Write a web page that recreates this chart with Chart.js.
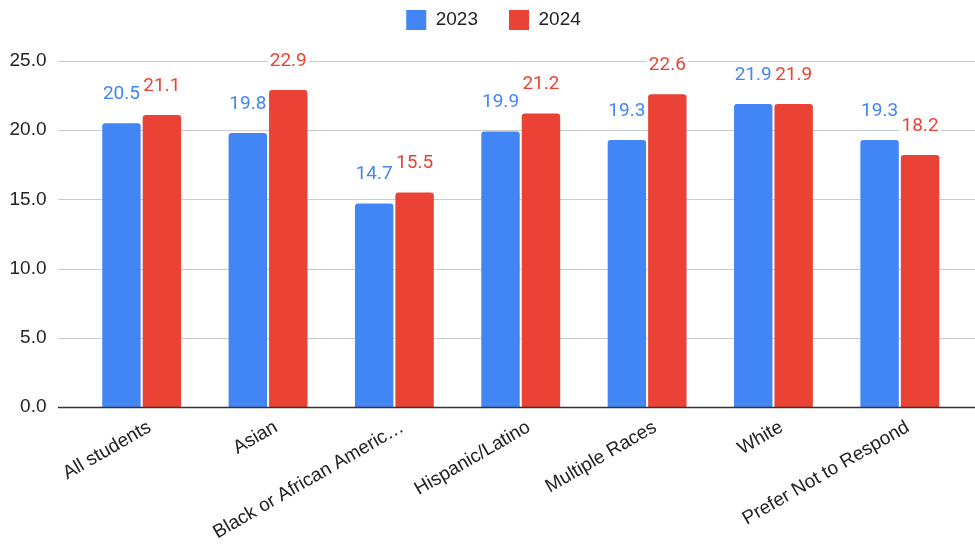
<!DOCTYPE html>
<html>
<head>
<meta charset="utf-8">
<script src="https://cdn.jsdelivr.net/npm/chart.js@4.4.1/dist/chart.umd.min.js"></script>
<style>
  html, body { margin: 0; padding: 0; background: #fff; }
  #wrap { width: 975px; height: 546px; }
</style>
</head>
<body>
<div id="wrap"><canvas id="myChart" width="975" height="546"></canvas></div>
<script>
const categories = ['All students', 'Asian', 'Black or African Americ\u2026', 'Hispanic/Latino', 'Multiple Races', 'White', 'Prefer Not to Respond'];
const seriesNames = ['2023', '2024'];
const values2023 = [20.5, 19.8, 14.7, 19.9, 19.3, 21.9, 19.3];
const values2024 = [21.1, 22.9, 15.5, 21.2, 22.6, 21.9, 18.2];
const yTicks = [0, 5, 10, 15, 20, 25];

const blue = '#4285F4';
const red = '#EA4335';

// grid lines run past the plot area, like the sheet chart
const gridPlugin = {
    id: 'wideGrid',
    afterLayout(chart) {
        // nudge legend to where the sheet puts it
        const l = chart.legend;
        l.top -= 21; l.bottom -= 21;
        l.left += 12; l.right += 12;
    },
    beforeDatasetsDraw(chart) {
        const ctx = chart.ctx;
        const y = chart.scales.y;
        ctx.save();
        ctx.strokeStyle = '#cccccc';
        ctx.lineWidth = 1;
        yTicks.forEach(function(v){
            if (v === 0) return;
            const py = Math.round(y.getPixelForValue(v)) + 0.5;
            ctx.beginPath();
            ctx.moveTo(58, py);
            ctx.lineTo(975, py);
            ctx.stroke();
        });
        ctx.restore();
    },
    afterDatasetsDraw(chart) {
        const ctx = chart.ctx;
        const y = chart.scales.y;
        ctx.save();
        // zero line
        const py = Math.round(y.getPixelForValue(0)) + 0.5;
        ctx.strokeStyle = '#333333';
        ctx.lineWidth = 1.5;
        ctx.beginPath();
        ctx.moveTo(58, py);
        ctx.lineTo(975, py);
        ctx.stroke();

        // value labels above bars
        ctx.font = '19px Roboto';
        ctx.textAlign = 'center';
        ctx.textBaseline = 'middle';
        chart.data.datasets.forEach(function(ds, i){
            const meta = chart.getDatasetMeta(i);
            meta.data.forEach(function(bar, j){
                const txt = ds.data[j].toFixed(1);
                const w = ctx.measureText(txt).width;
                const ty = bar.y - 29;
                ctx.fillStyle = '#ffffff';
                ctx.fillRect(bar.x - w / 2 - 2, ty - 10, w + 4, 20);
                ctx.fillStyle = ds.backgroundColor;
                ctx.fillText(txt, bar.x, ty);
            });
        });
        ctx.restore();
    }
};

let ctx = document.getElementById('myChart').getContext('2d');
let myChart = new Chart(ctx, {
    type: 'bar',
    data: {
        labels: categories,
        datasets: [{
            label: seriesNames[0],
            data: values2023,
            backgroundColor: blue,
            borderRadius: 3,
            categoryPercentage: 0.64,
            barPercentage: 0.95
        }, {
            label: seriesNames[1],
            data: values2024,
            backgroundColor: red,
            borderRadius: 3,
            categoryPercentage: 0.64,
            barPercentage: 0.95
        }]
    },
    options: {
        responsive: false,
        animation: false,
        layout: {
            padding: { top: 0, left: 0, right: 12, bottom: 0 }
        },
        plugins: {
            legend: {
                position: 'top',
                labels: {
                    boxWidth: 20,
                    boxHeight: 20,
                    padding: 31,
                    color: '#222222',
                    font: { family: 'Liberation Sans', size: 19 }
                }
            },
            tooltip: { enabled: false }
        },
        scales: {
            x: {
                grid: { display: false, drawTicks: false },
                border: { display: false },
                ticks: {
                    color: '#222222',
                    font: { family: 'Liberation Sans', size: 19 },
                    minRotation: 30,
                    maxRotation: 30,
                    autoSkip: false,
                    labelOffset: 8,
                    padding: 9
                },
                afterFit: function(s){ s.height = 139; }
            },
            y: {
                min: 0,
                max: 25,
                grid: { display: false, drawTicks: false },
                border: { display: false },
                afterBuildTicks: function(s){ s.ticks = yTicks.map(function(v){ return { value: v }; }); },
                ticks: {
                    color: '#222222',
                    font: { family: 'Liberation Sans', size: 19 },
                    padding: 32,
                    callback: function(v){ return Number(v).toFixed(1); }
                },
                afterFit: function(s){ s.width = 78.5; }
            }
        }
    },
    plugins: [gridPlugin]
});
</script>
</body>
</html>
